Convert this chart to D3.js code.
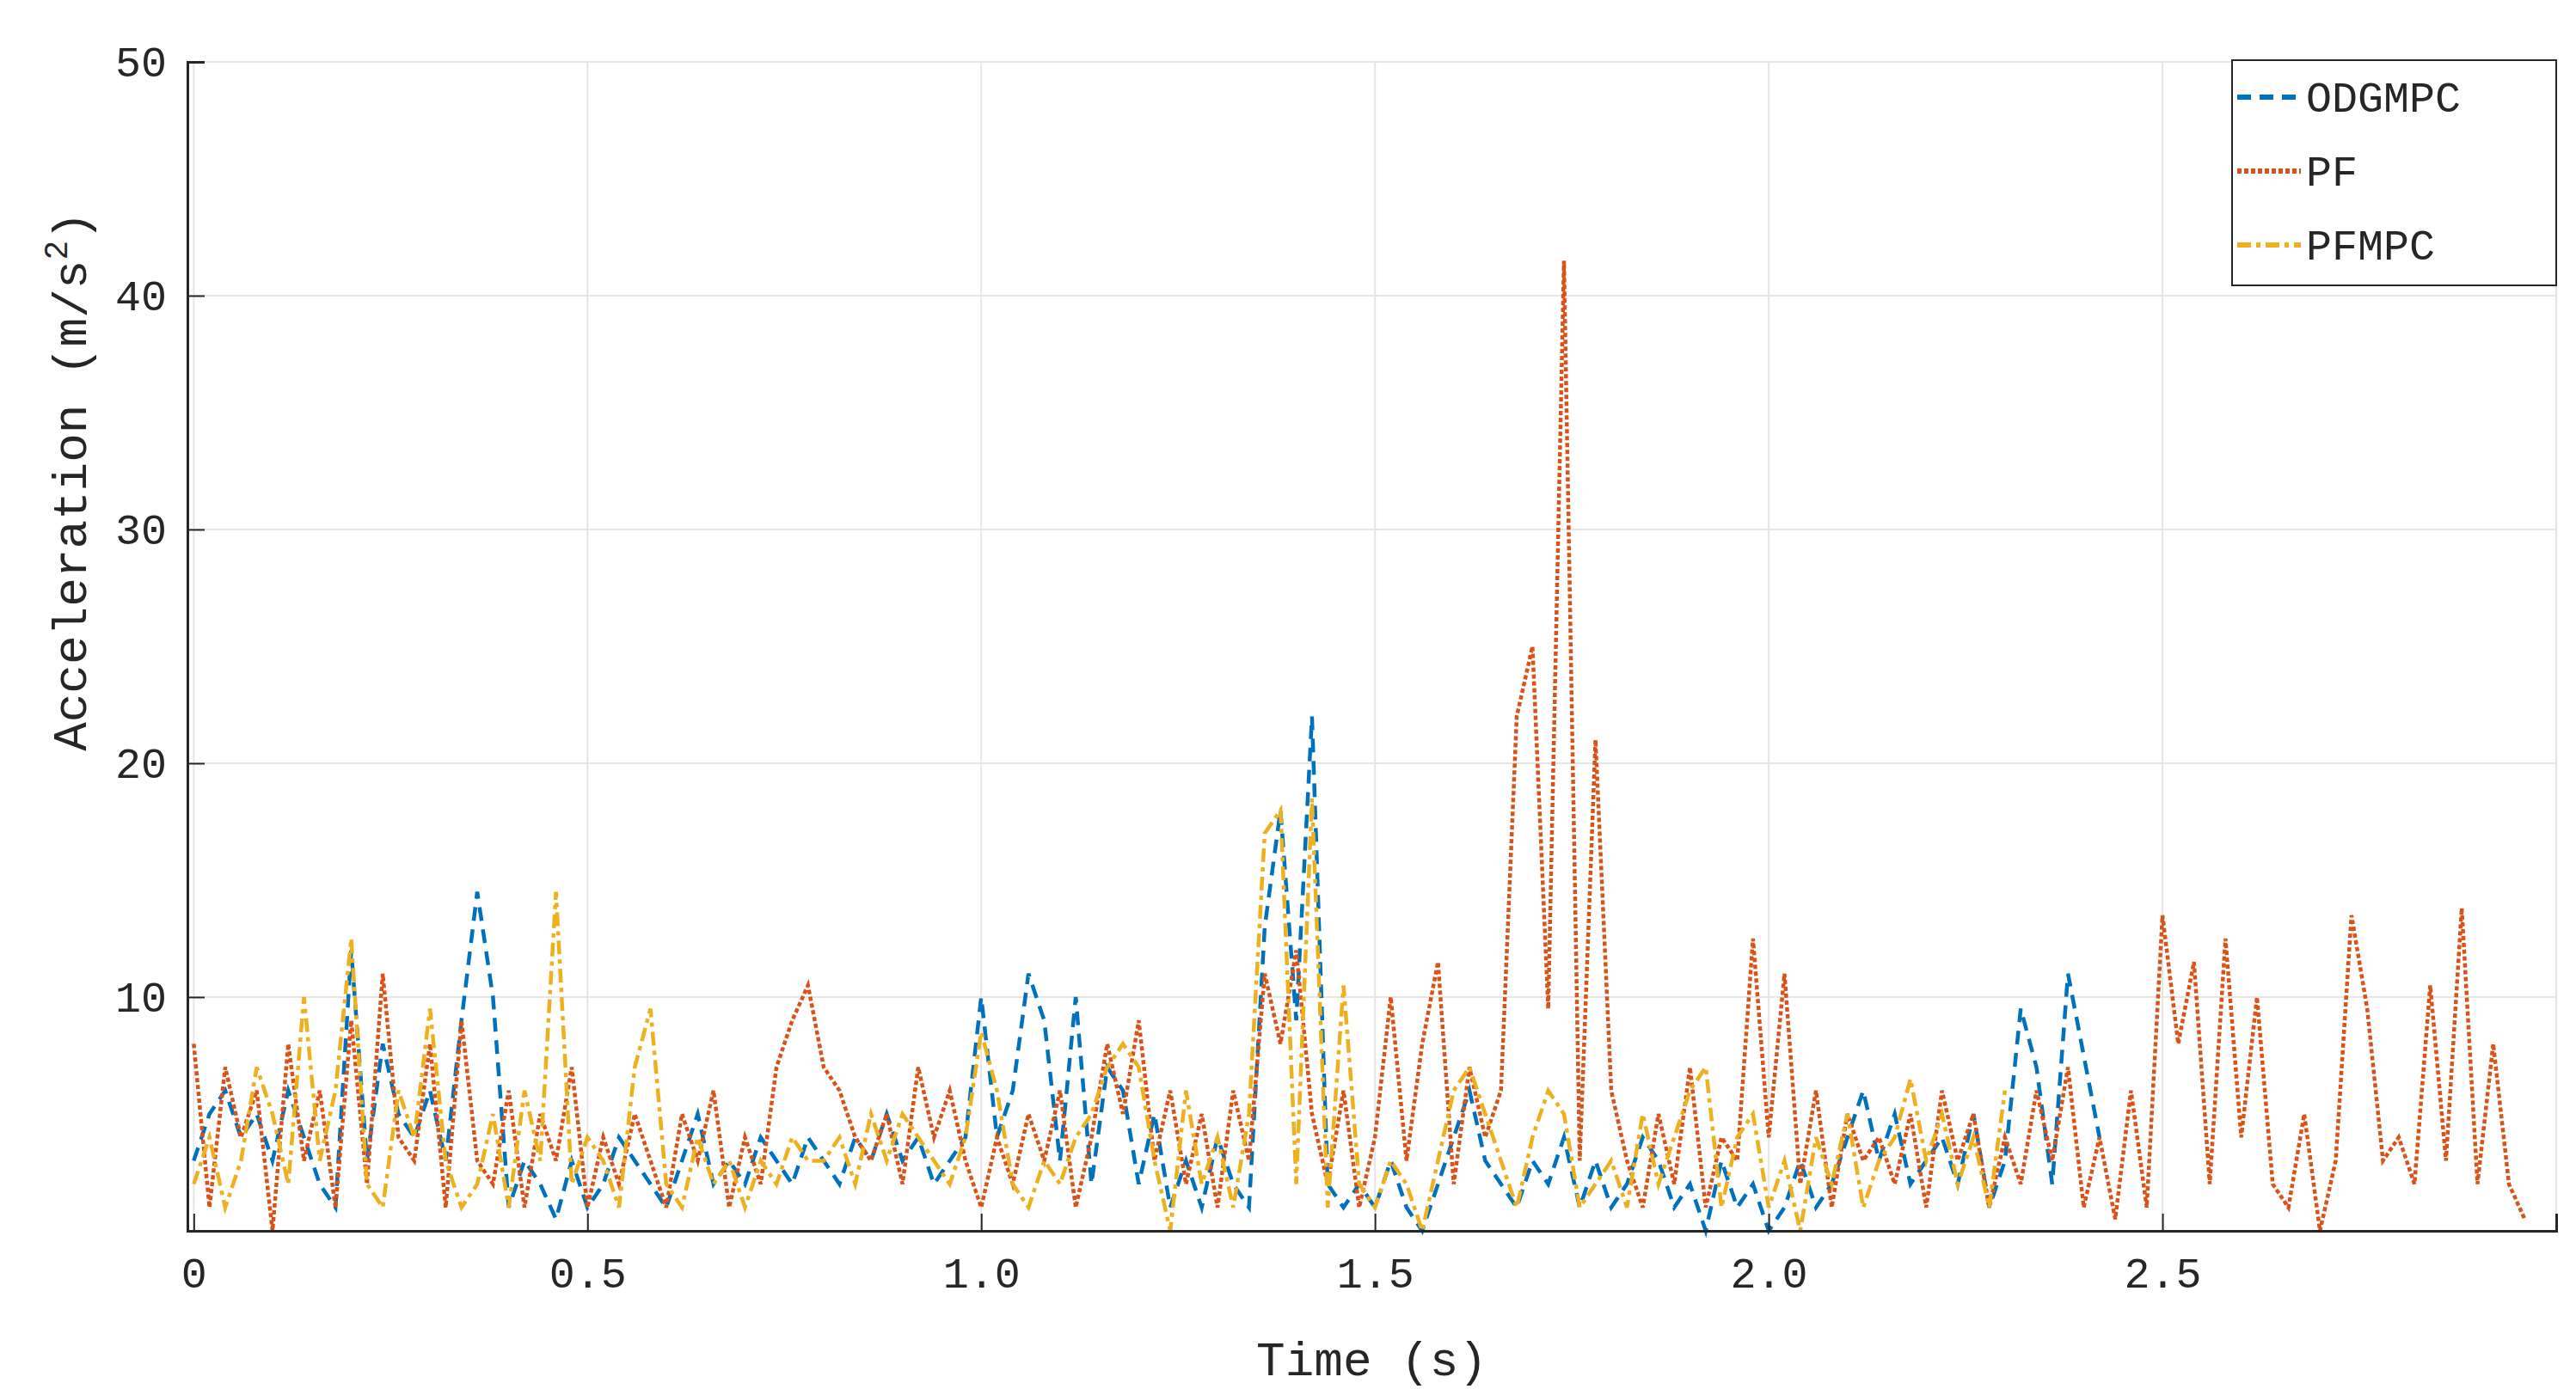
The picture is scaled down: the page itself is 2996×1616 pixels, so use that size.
<!DOCTYPE html>
<html>
<head>
<meta charset="utf-8">
<script src="https://cdn.jsdelivr.net/npm/d3@7"></script>
<style>
  body { margin: 0; background: #fff; }
  text { font-family: "Liberation Mono", "DejaVu Sans Mono", monospace; fill: #262626; }
</style>
</head>
<body>
<svg id="chart" width="2996" height="1616"></svg>
<script>
// sampling step of all series (s)
var dt = 0.02;
var pfValues = [
  8,1,7,4,6,0,8,3,6,1,
  9,2,11,4,3,8,1,9,3,2,
  6,1,5,3,7,1,4,2,5,3,
  1,5,3,6,1,4,2,7,9,10.5,
  7,6,4,3,5,2,7,4,6,3,
  1,4,2,5,3,6,1,4,8,5,
  9,3,6,2,5,1,6,3,11,8,
  12,5,2,6,1,4,10,3,8,11.5,
  2,7,4,6,22,25,9.5,41.5,3,21,
  6,3,1,5,2,7,1,4,3,12.5,
  4,11,2,6,1,5,3,4,2,5,
  1,6,3,5,1,4,2,6,3,7,
  1,4,0.5,6,1,13.5,8,11.5,2,12.5,
  4,10,2,1,5,0,3,13.5,9.5,3,
  4,2,10.5,3,13.8,2,8,2,0.5
];
var odgmpcValues = [
  3,5,6,4,5,3,6,4,2,1,
  12,3,8,5,4,6,3,9,14.5,10,
  1,3,2,0.5,3,1,2,4,3,2,
  1,3,5,2,3,2,4,3,2,4,
  3,2,4,3,5,3,4,2,3,4,
  10,4,6,11,9,3,10,2,7,6,
  2,5,1,3,1,4,2,1,13,18,
  9,22,2,1,2,1,3,1,0,2,
  4,6,3,2,1,3,2,4,1,3,
  1,2,4,3,1,2,0,3,1,2,
  0,1,3,1,2,4,6,3,5,2,
  3,4,2,5,1,3,9.5,7,2,11,7.5,4
];
var pfmpcValues = [
  2,4,1,3,7,5,2,10,3,6,
  12.5,2,1,6,4,9.5,3,1,2,5,
  1,6,3,14.5,2,4,3,1,7,9.5,
  2,1,4,2,3,1,3,2,4,3,
  3,4,2,5,3,5,4,3,2,4,
  8.5,6,2,1,3,2,4,5,7,8,
  7,3,0,6,2,4,1,5,17,18,
  2,18.5,1,10.5,2,1,3,2,0,3,
  6,7,5,3,1,4,6,5,1,2,
  3,1,5,2,4,6,7,1,4,5,
  1,3,0,4,2,5,1,3,4,6.5,
  3,5,2,4,1,6
];
var seriesNames = ["ODGMPC", "PF", "PFMPC"];
var seriesColors = ["#0072BD", "#D95319", "#EDB120"];
var seriesDashes = ["16,10", "5,3", "16,6,5,6"];
var xTicks = [0, 0.5, 1.0, 1.5, 2.0, 2.5, 3.0];
var xTickLabels = ["0", "0.5", "1.0", "1.5", "2.0", "2.5", ""];
var yTicks = [0, 10, 20, 30, 40, 50];
var yTickLabels = ["", "10", "20", "30", "40", "50"];

(function () {
  var svg = d3.select("#chart");
  var mLeft = 218, mRight = 2973, mTop = 72, mBottom = 1432;
  var x = d3.scaleLinear().domain([-0.008, 3.0]).range([mLeft, mRight]);
  var y = d3.scaleLinear().domain([0, 50]).range([mBottom, mTop]);

  // grid
  svg.append("g").selectAll("line").data(yTicks).join("line")
    .attr("x1", mLeft).attr("x2", mRight).attr("y1", y).attr("y2", y)
    .attr("stroke", "#e6e6e6").attr("stroke-width", 2);
  svg.append("g").selectAll("line").data(xTicks).join("line")
    .attr("x1", x).attr("x2", x).attr("y1", mTop).attr("y2", mBottom)
    .attr("stroke", "#e6e6e6").attr("stroke-width", 2);

  // series
  var allSeries = [odgmpcValues, pfValues, pfmpcValues];
  var line = d3.line().x(function (d, i) { return x(i * dt); }).y(function (d) { return y(d); });
  allSeries.forEach(function (vals, k) {
    svg.append("path").datum(vals).attr("d", line)
      .attr("fill", "none").attr("stroke", seriesColors[k])
      .attr("stroke-width", 4.5).attr("stroke-dasharray", seriesDashes[k]);
  });

  // axes
  var xAxis = d3.axisBottom(x).tickValues(xTicks).tickSize(-20)
    .tickFormat(function (d, i) { return xTickLabels[i]; }).tickPadding(30);
  var gx = svg.append("g").attr("transform", "translate(0," + mBottom + ")").call(xAxis);
  var yAxis = d3.axisLeft(y).tickValues(yTicks).tickSize(-20)
    .tickFormat(function (d, i) { return yTickLabels[i]; }).tickPadding(24);
  var gy = svg.append("g").attr("transform", "translate(" + mLeft + ",0)").call(yAxis);
  [gx, gy].forEach(function (g) {
    g.select(".domain").attr("stroke", "#262626").attr("stroke-width", 3);
    g.selectAll(".tick line").attr("stroke", "#262626").attr("stroke-width", 2);
    g.selectAll(".tick text").attr("font-size", 50).attr("fill", "#262626")
      .attr("font-family", "Liberation Mono");
  });

  // axis labels
  svg.append("text").attr("x", (mLeft + mRight) / 2).attr("y", 1600)
    .attr("text-anchor", "middle").attr("font-size", 56).text("Time (s)");
  var yl = svg.append("text").attr("transform", "translate(100,560) rotate(-90)")
    .attr("text-anchor", "middle").attr("font-size", 56);
  yl.append("tspan").text("Acceleration (m/s");
  yl.append("tspan").attr("dy", -22).attr("font-size", 38).text("2");
  yl.append("tspan").attr("dy", 22).text(")");

  // legend
  var lg = svg.append("g").attr("transform", "translate(2596,70)");
  lg.append("rect").attr("width", 377).attr("height", 262)
    .attr("fill", "#fff").attr("stroke", "#262626").attr("stroke-width", 2);
  seriesNames.forEach(function (name, k) {
    var cy = 43 + k * 86;
    lg.append("line").attr("x1", 6).attr("x2", 80).attr("y1", cy).attr("y2", cy)
      .attr("stroke", seriesColors[k]).attr("stroke-width", 6)
      .attr("stroke-dasharray", seriesDashes[k]);
    lg.append("text").attr("x", 86).attr("y", cy + 17).attr("font-size", 50)
      .attr("fill", "#000").text(name);
  });
})();
</script>
</body>
</html>
